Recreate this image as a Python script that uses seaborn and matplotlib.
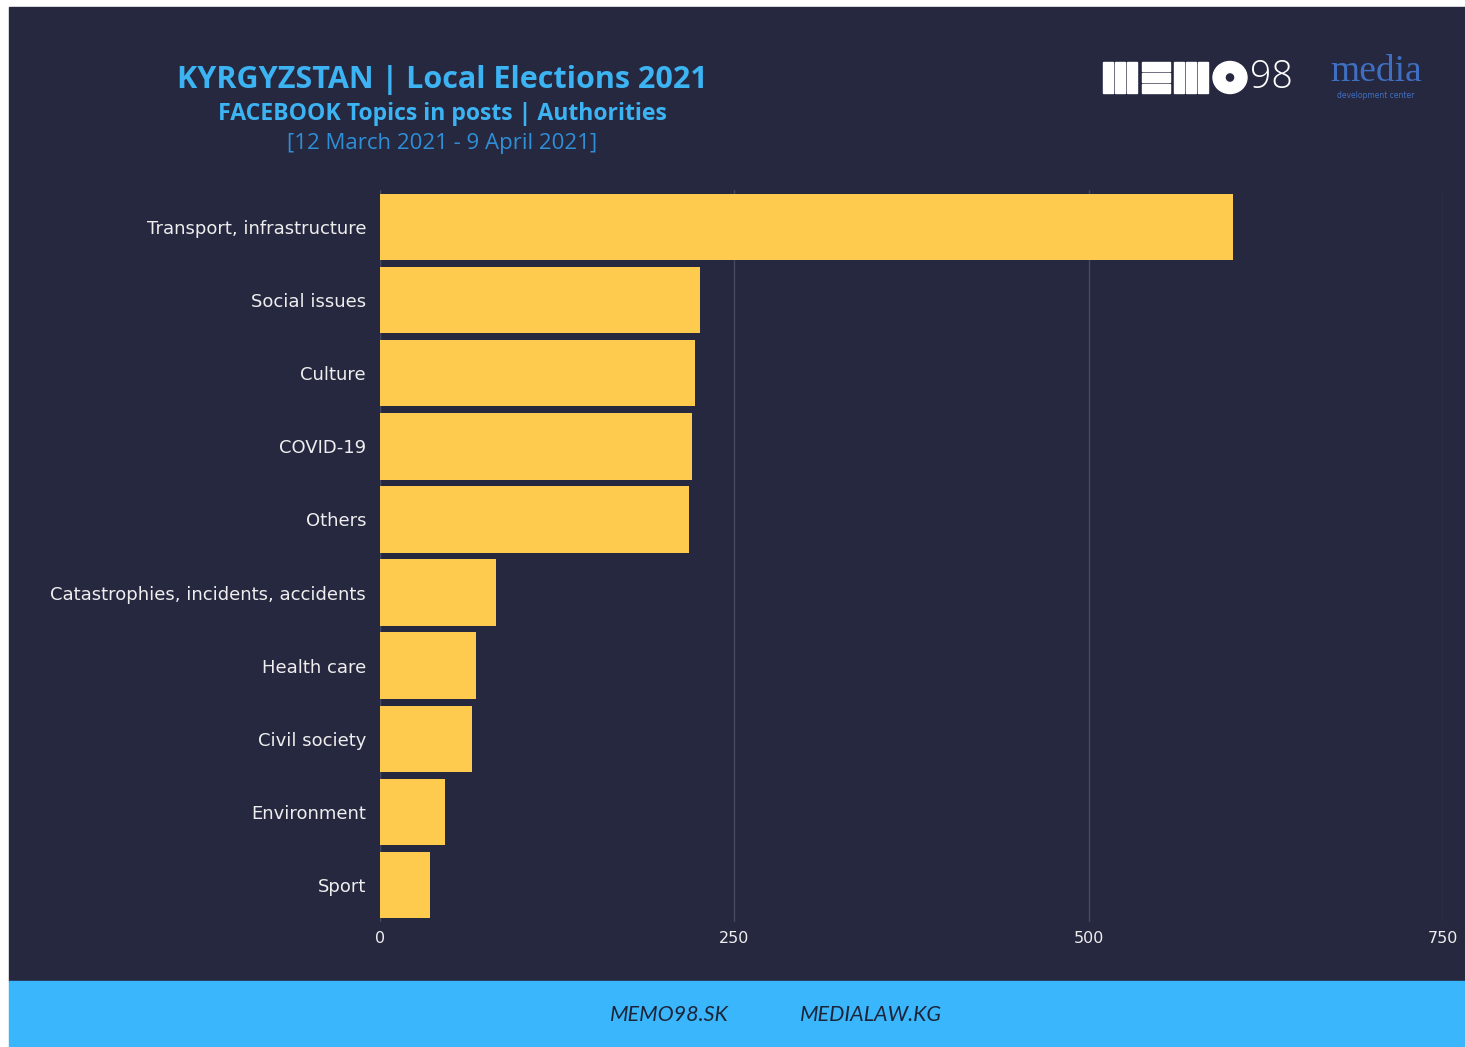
import matplotlib
matplotlib.use("Agg")
import matplotlib.pyplot as plt
import matplotlib.patches as mpatches
import seaborn as sns
import pandas as pd

# Dane
topics = ['Transport, infrastructure', 'Social issues', 'Culture', 'COVID-19', 'Others',
          'Catastrophies, incidents, accidents', 'Health care', 'Civil society',
          'Environment', 'Sport']
posts = [602, 226, 222, 220, 218, 82, 68, 65, 46, 35]
x_ticks = [0, 250, 500, 750]

title = 'KYRGYZSTAN | Local Elections 2021'
subtitle = 'FACEBOOK Topics in posts | Authorities'
period = '[12 March 2021 - 9 April 2021]'
footer_left = 'MEMO98.SK'
footer_right = 'MEDIALAW.KG'

BG = '#262840'
BAR = '#fecb4e'
BLUE = '#3ab6fd'
TITLE_BLUE = '#3cb3f2'

sns.set_theme(style='dark')
plt.rcParams['font.family'] = ['DejaVu Sans']

W, H = 1465, 1047
fig = plt.figure(figsize=(W / 100, H / 100), dpi=100)
fig.patch.set_facecolor('white')


def px(x0, y0, x1, y1):
    # prostokat w pikselach (od gory) -> wspolrzedne figury
    return (x0 / W, 1 - y1 / H), (x1 - x0) / W, (y1 - y0) / H


xy, w, h = px(9, 7, 1465, 981)
fig.patches.append(mpatches.Rectangle(xy, w, h, transform=fig.transFigure, color=BG, zorder=-10))
xy, w, h = px(9, 981, 1465, 1047)
fig.patches.append(mpatches.Rectangle(xy, w, h, transform=fig.transFigure, color=BLUE, zorder=-10))

ax_top, ax_bot = 190.4, 921.6
ax = fig.add_axes([380 / W, 1 - ax_bot / H, (1443 - 380) / W, (ax_bot - ax_top) / H])
ax.set_facecolor(BG)

df = pd.DataFrame({'topic': topics, 'posts': posts})
sns.barplot(data=df, x='posts', y='topic', orient='h', color=BAR, width=0.91,
            saturation=1, linewidth=0, ax=ax, zorder=3)

ax.set_xlim(0, 750)
ax.set_ylim(len(topics) - 0.5, -0.5)
ax.set_xticks(x_ticks)
ax.set_xticklabels([str(t) for t in x_ticks])
ax.set_xlabel('')
ax.set_ylabel('')
ax.grid(axis='x', color='#454a60', linewidth=1)
ax.grid(axis='y', visible=False)
for s in ax.spines.values():
    s.set_visible(False)
ax.tick_params(axis='x', length=0, pad=7, labelsize=11.5, labelcolor='#eeeeee')
ax.tick_params(axis='y', length=0, pad=10, labelsize=13, labelcolor='#eeeeee')

# Tytuly
cx = 442 / W
fig.text(cx, 1 - 80 / H, title, ha='center', va='center', fontsize=22,
         fontweight='bold', color=TITLE_BLUE, family=['Open Sans', 'DejaVu Sans'])
fig.text(cx, 1 - 114 / H, subtitle, ha='center', va='center', fontsize=16.6,
         fontweight='bold', color=TITLE_BLUE, family=['Open Sans', 'DejaVu Sans'])
fig.text(cx, 1 - 144 / H, period, ha='center', va='center', fontsize=16,
         color='#2f8fd6', family=['Open Sans', 'DejaVu Sans'])

# Logo MEMO98 (uproszczone)
for x0 in [1103, 1115, 1127, 1174, 1186, 1198]:
    xy, w, h = px(x0, 62, x0 + 10, 93)
    fig.patches.append(mpatches.Rectangle(xy, w, h, transform=fig.transFigure, color='white'))
for y0 in [62, 73, 84]:
    xy, w, h = px(1142, y0, 1170, y0 + 9)
    fig.patches.append(mpatches.Rectangle(xy, w, h, transform=fig.transFigure, color='white'))
fig.patches.append(mpatches.Ellipse((1230 / W, 1 - 77.5 / H), 34 / W, 32 / H,
                                    transform=fig.transFigure, color='white'))
fig.patches.append(mpatches.Ellipse((1230 / W, 1 - 77.5 / H), 10 / W, 10 / H,
                                    transform=fig.transFigure, facecolor=BG,
                                    edgecolor='white', linewidth=1))
fig.text(1250 / W, 1 - 78 / H, '98', ha='left', va='center', fontsize=27,
         color='white', fontweight='light', family=['Open Sans', 'DejaVu Sans'])

# Logo media development center (uproszczone)
fig.text(1376 / W, 1 - 72 / H, 'media', ha='center', va='center', fontsize=27,
         color='#3f6fc0', family=['Liberation Serif', 'DejaVu Serif'])
fig.text(1376 / W, 1 - 95 / H, 'development center', ha='center', va='center',
         fontsize=5.5, color='#3f6fc0')

# Stopka
fig.text(669 / W, 1 - 1015 / H, footer_left, ha='center', va='center', fontsize=15.5,
         style='italic', color='#1c2538', family=['Lato', 'DejaVu Sans'])
fig.text(871 / W, 1 - 1015 / H, footer_right, ha='center', va='center', fontsize=15.5,
         style='italic', color='#1c2538', family=['Lato', 'DejaVu Sans'])

fig.savefig('out.png', dpi=100, facecolor=fig.get_facecolor())
